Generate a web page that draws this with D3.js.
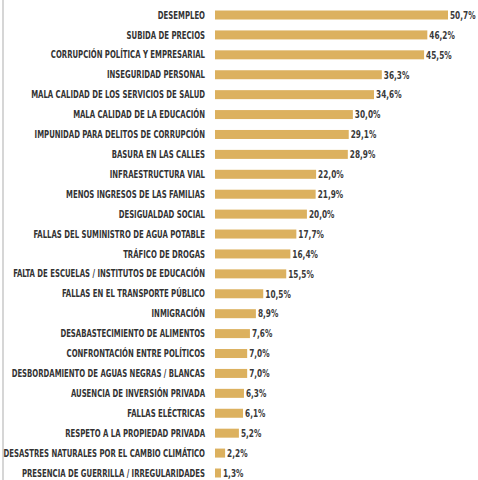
<!DOCTYPE html>
<html lang="es">
<head>
    <meta charset="UTF-8">
    <title>Problemas principales</title>
    <script src="https://d3js.org/d3.v7.min.js"></script>
    <style>
        body {
            margin: 0;
            background-color: #fff;
        }
        svg {
            display: block;
        }
        .label {
            font-family: "DejaVu Sans Condensed", "DejaVu Sans", sans-serif;
            font-weight: bold;
            font-size: 10px;
            fill: #333;
        }
        .value {
            font-family: "DejaVu Sans Condensed", "DejaVu Sans", sans-serif;
            font-weight: bold;
            font-size: 10.5px;
            fill: #3a3a3a;
        }
    </style>
</head>
<body>
    <svg id="chart"></svg>
    <script>
        const categories = [
            "DESEMPLEO",
            "SUBIDA DE PRECIOS",
            "CORRUPCIÓN POLÍTICA Y EMPRESARIAL",
            "INSEGURIDAD PERSONAL",
            "MALA CALIDAD DE LOS SERVICIOS DE SALUD",
            "MALA CALIDAD DE LA EDUCACIÓN",
            "IMPUNIDAD PARA DELITOS DE CORRUPCIÓN",
            "BASURA EN LAS CALLES",
            "INFRAESTRUCTURA VIAL",
            "MENOS INGRESOS DE LAS FAMILIAS",
            "DESIGUALDAD SOCIAL",
            "FALLAS  DEL SUMINISTRO DE AGUA POTABLE",
            "TRÁFICO DE DROGAS",
            "FALTA DE ESCUELAS / INSTITUTOS DE EDUCACIÓN",
            "FALLAS EN EL TRANSPORTE PÚBLICO",
            "INMIGRACIÓN",
            "DESABASTECIMIENTO DE ALIMENTOS",
            "CONFRONTACIÓN ENTRE POLÍTICOS",
            "DESBORDAMIENTO DE AGUAS NEGRAS / BLANCAS",
            "AUSENCIA DE INVERSIÓN PRIVADA",
            "FALLAS ELÉCTRICAS",
            "RESPETO A LA PROPIEDAD PRIVADA",
            "DESASTRES NATURALES POR EL CAMBIO CLIMÁTICO",
            "PRESENCIA DE GUERRILLA / IRREGULARIDADES"
        ];
        const values = [50.7, 46.2, 45.5, 36.3, 34.6, 30.0, 29.1, 28.9, 22.0, 21.9, 20.0, 17.7,
                        16.4, 15.5, 10.5, 8.9, 7.6, 7.0, 7.0, 6.3, 6.1, 5.2, 2.2, 1.3];

        const width = 478, height = 480;
        const barH = 9;

        const svg = d3.select("#chart")
            .attr("width", width)
            .attr("height", height);

        // thin grey rule on the left edge
        svg.append("line")
            .attr("x1", 3).attr("x2", 3)
            .attr("y1", 0).attr("y2", height)
            .attr("stroke", "#c8c8c8")
            .attr("stroke-width", 1.5);

        const data = categories.map((c, i) => ({ name: c, value: values[i] }));

        const y = d3.scalePoint()
            .domain(categories)
            .range([15, 473]);

        const x = d3.scaleLinear()
            .domain([0, 50.7])
            .range([215, 448]);

        const fmt = d3.formatLocale({ decimal: ",", thousands: ".", grouping: [3], currency: ["", "%"] }).format(".1f");

        svg.selectAll(".bar")
            .data(data)
            .enter().append("rect")
            .attr("class", "bar")
            .attr("x", x(0))
            .attr("y", d => y(d.name) - barH / 2)
            .attr("width", d => Math.max(6, x(d.value) - x(0)))
            .attr("height", barH)
            .attr("fill", "#dcb15f");

        svg.selectAll(".label")
            .data(data)
            .enter().append("text")
            .attr("class", "label")
            .attr("text-anchor", "end")
            .attr("transform", d => `translate(205,${y(d.name)}) scale(0.77,1)`)
            .attr("dy", "0.36em")
            .text(d => d.name);

        svg.selectAll(".value")
            .data(data)
            .enter().append("text")
            .attr("class", "value")
            .attr("transform", d => `translate(${Math.max(x(0) + 6, x(d.value)) + 2},${y(d.name)}) scale(0.78,1)`)
            .attr("dy", "0.36em")
            .text(d => fmt(d.value) + "%");
    </script>
</body>
</html>
